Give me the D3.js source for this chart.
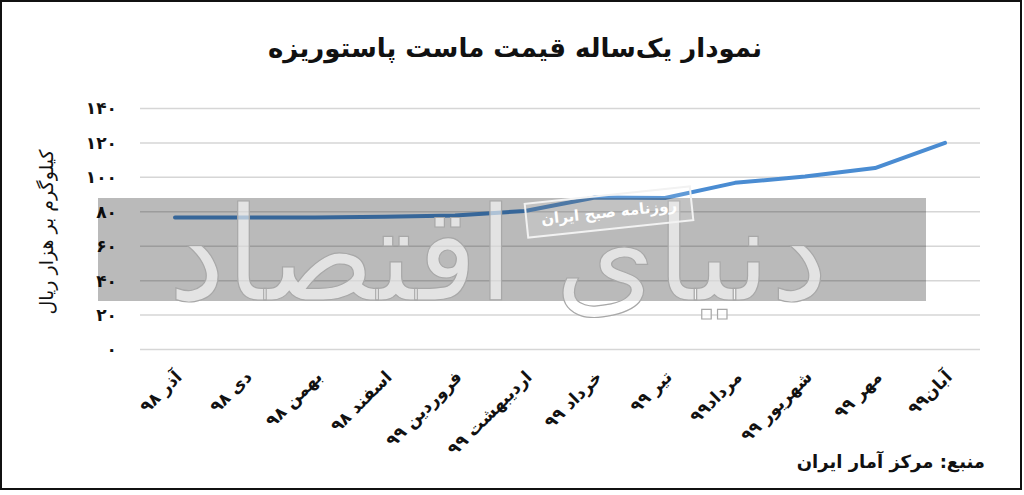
<!DOCTYPE html>
<html>
<head>
<meta charset="utf-8">
<script src="https://cdn.jsdelivr.net/npm/d3@7"></script>
<style>
  html, body { margin: 0; padding: 0; background: #fff; }
  svg { display: block; }
  text { font-family: "DejaVu Sans", sans-serif; }
</style>
</head>
<body>
<svg id="chart" width="1024" height="495"></svg>
<script>
const categories = ["آذر ۹۸", "دی ۹۸", "بهمن ۹۸", "اسفند ۹۸", "فروردین ۹۹", "اردیبهشت ۹۹",
                    "خرداد ۹۹", "تیر ۹۹", "مرداد۹۹", "شهریور ۹۹", "مهر ۹۹", "آبان۹۹"];
const prices = [76.7, 76.7, 76.7, 77.1, 77.8, 80.5, 88.3, 88.0, 96.8, 100.5, 105.4, 120.0];
const yTicks = [0, 20, 40, 60, 80, 100, 120, 140];
const titleText = "نمودار یک‌ساله قیمت ماست پاستوریزه";
const yAxisTitle = "کیلوگرم بر هزار ریال";
const sourceText = "منبع: مرکز آمار ایران";
const watermarkText = "دنیای اقتصاد";
const stampText = "روزنامه صبح ایران";

const toFa = n => String(n).replace(/\d/g, d => "۰۱۲۳۴۵۶۷۸۹"[d]);

const svg = d3.select("#chart");
const W = 1024, H = 495;

svg.append("rect").attr("x", 0).attr("y", 0).attr("width", W).attr("height", H).attr("fill", "#fff");

const x = d3.scaleBand().domain(categories).range([140, 980]);
const y = d3.scaleLinear().domain([0, 140]).range([349.5, 108.5]);

// gridlines
svg.append("g").selectAll("line").data(yTicks).join("line")
  .attr("x1", 140).attr("x2", 980)
  .attr("y1", d => y(d)).attr("y2", d => y(d))
  .attr("stroke", "#d6d6d6").attr("stroke-width", 1.5);

// y tick labels
svg.append("g").selectAll("text").data(yTicks).join("text")
  .attr("x", 117).attr("y", d => y(d)).attr("dy", "0.35em")
  .attr("text-anchor", "end")
  .attr("font-size", 17).attr("font-weight", "bold").attr("fill", "#111")
  .text(d => toFa(d));

// line
const line = d3.line()
  .x((d, i) => x(categories[i]) + x.bandwidth() / 2)
  .y(d => y(d));
svg.append("path").datum(prices)
  .attr("d", line)
  .attr("fill", "none").attr("stroke", "#4a8cd2")
  .attr("stroke-width", 4).attr("stroke-linecap", "round").attr("stroke-linejoin", "round");

// watermark gray band
svg.append("rect").attr("x", 98).attr("y", 198).attr("width", 828).attr("height", 103)
  .attr("fill", "#000").attr("fill-opacity", 0.27);

// watermark big lettering
svg.append("text").attr("x", 168).attr("y", 300)
  .attr("font-size", 130)
  .attr("textLength", 660).attr("lengthAdjust", "spacingAndGlyphs")
  .attr("fill", "#fff").attr("fill-opacity", 0.6)
  .attr("stroke", "#a8a8a8").attr("stroke-width", 1.2)
  .text(watermarkText);

// stamp
const stamp = svg.append("g").attr("transform", "translate(609,212) rotate(-6)");
stamp.append("rect").attr("x", -83).attr("y", -17).attr("width", 166).attr("height", 34)
  .attr("fill", "#fff").attr("fill-opacity", 0.12)
  .attr("stroke", "#f2f2f2").attr("stroke-width", 2);
stamp.append("text").attr("x", 0).attr("y", 0).attr("dy", "0.35em")
  .attr("text-anchor", "middle").attr("font-size", 15).attr("font-weight", "bold")
  .attr("fill", "#fff").text(stampText);

// x labels rotated
svg.append("g").selectAll("text").data(categories).join("text")
  .attr("transform", d => `translate(${x(d) + x.bandwidth() / 2 + 8},${378}) rotate(-45)`)
  .attr("text-anchor", "end")
  .attr("font-size", 17).attr("font-weight", "bold").attr("fill", "#111")
  .text(d => d);

// y axis title
svg.append("text")
  .attr("transform", "translate(46,232) rotate(-90)")
  .attr("text-anchor", "middle").attr("dy", "0.35em")
  .attr("font-size", 19).attr("fill", "#111")
  .text(yAxisTitle);

// title
svg.append("text").attr("x", 515).attr("y", 48).attr("dy", "0.35em")
  .attr("text-anchor", "middle")
  .attr("font-size", 26).attr("font-weight", "bold").attr("fill", "#111")
  .text(titleText);

// source
svg.append("text").attr("x", 985).attr("y", 462).attr("dy", "0.35em")
  .attr("text-anchor", "end")
  .attr("font-size", 18).attr("font-weight", "bold").attr("fill", "#111")
  .text(sourceText);

// frame
svg.append("rect").attr("x", 1).attr("y", 1).attr("width", 1020).attr("height", 488)
  .attr("fill", "none").attr("stroke", "#111").attr("stroke-width", 2);
</script>
</body>
</html>
